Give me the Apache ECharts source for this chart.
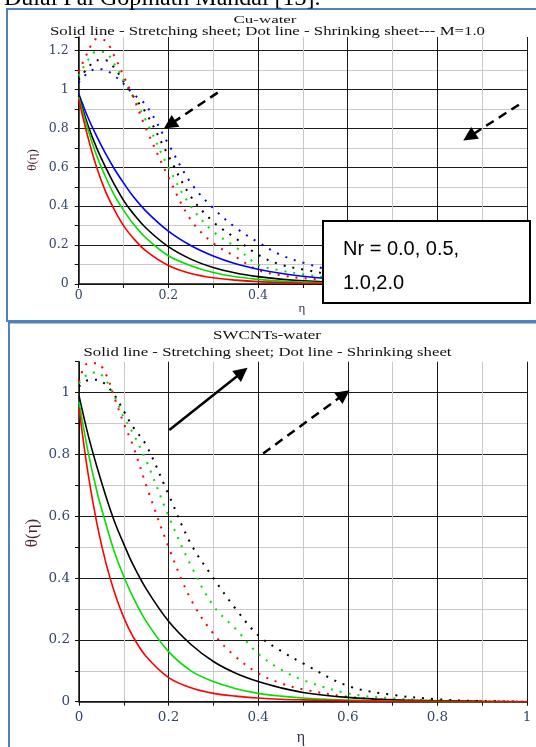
<!DOCTYPE html>
<html><head><meta charset="utf-8">
<script src="https://cdn.jsdelivr.net/npm/echarts@6/dist/echarts.min.js"></script>
<style>html,body{margin:0;padding:0;background:#fff}#c{width:536px;height:747px}</style>
</head><body><div id="c"></div>
<script>
// ---------- data ----------
const eta = [0, 0.02, 0.04, 0.06, 0.08, 0.1, 0.12, 0.15, 0.2, 0.25, 0.3, 0.35, 0.4, 0.45, 0.5, 0.6, 0.7, 0.8, 0.9, 1];
const xTicks = [0, 0.2, 0.4, 0.6, 0.8, 1];
const yTicksTop = [0, 0.2, 0.4, 0.6, 0.8, 1, 1.2];
const yTicksBottom = [0, 0.2, 0.4, 0.6, 0.8, 1];

// Cu-water (top panel), Nr = 0.0, 0.5, 1.0, 2.0  (red, green, black, blue)
const cuSolidRed   = [0.95, 0.76, 0.60, 0.475, 0.38, 0.30, 0.24, 0.17, 0.095, 0.054, 0.032, 0.02, 0.012, 0.008, 0.005, 0.002, 0.001, 0, 0, 0];
const cuSolidGreen = [0.96, 0.80, 0.66, 0.55, 0.455, 0.38, 0.315, 0.237, 0.145, 0.094, 0.059, 0.037, 0.024, 0.015, 0.01, 0.004, 0.002, 0.001, 0, 0];
const cuSolidBlack = [0.97, 0.82, 0.70, 0.60, 0.51, 0.43, 0.367, 0.288, 0.192, 0.128, 0.085, 0.057, 0.038, 0.025, 0.017, 0.008, 0.003, 0.0015, 0.001, 0];
const cuSolidBlue  = [0.98, 0.86, 0.76, 0.67, 0.59, 0.52, 0.455, 0.375, 0.272, 0.198, 0.144, 0.104, 0.076, 0.055, 0.04, 0.021, 0.011, 0.006, 0.003, 0];
const cuDotRed     = [1.09, 1.19, 1.26, 1.25, 1.17, 1.07, 0.97, 0.80, 0.55, 0.33, 0.21, 0.14, 0.072, 0.045, 0.03, 0.015, 0.007, 0.003, 0.001, 0];
const cuDotGreen   = [1.07, 1.15, 1.195, 1.19, 1.13, 1.05, 0.97, 0.84, 0.60, 0.40, 0.27, 0.19, 0.10, 0.07, 0.05, 0.022, 0.01, 0.004, 0.001, 0];
const cuDotBlack   = [1.05, 1.11, 1.15, 1.15, 1.11, 1.04, 0.97, 0.88, 0.66, 0.45, 0.32, 0.235, 0.15, 0.10, 0.075, 0.035, 0.016, 0.007, 0.003, 0];
const cuDotBlue    = [1.035, 1.085, 1.105, 1.10, 1.07, 1.03, 0.98, 0.92, 0.72, 0.52, 0.39, 0.29, 0.215, 0.15, 0.11, 0.05, 0.025, 0.012, 0.005, 0];

// SWCNTs-water (bottom panel)  (red, green, black)
const swSolidRed   = [0.95, 0.74, 0.576, 0.449, 0.35, 0.272, 0.212, 0.146, 0.078, 0.045, 0.027, 0.018, 0.012, 0.008, 0.006, 0.003, 0.001, 0, 0, 0];
const swSolidGreen = [0.97, 0.81, 0.68, 0.575, 0.48, 0.405, 0.34, 0.26, 0.162, 0.10, 0.065, 0.042, 0.027, 0.018, 0.012, 0.005, 0.002, 0.001, 0, 0];
const swSolidBlack = [0.99, 0.865, 0.76, 0.665, 0.58, 0.51, 0.445, 0.365, 0.26, 0.185, 0.13, 0.092, 0.065, 0.045, 0.03, 0.014, 0.006, 0.003, 0.001, 0];
const swDotRed     = [1.035, 1.095, 1.095, 1.06, 0.98, 0.90, 0.83, 0.70, 0.50, 0.33, 0.22, 0.145, 0.092, 0.06, 0.04, 0.016, 0.006, 0.002, 0.001, 0];
const swDotGreen   = [1.03, 1.06, 1.065, 1.04, 0.985, 0.92, 0.87, 0.78, 0.60, 0.44, 0.31, 0.235, 0.155, 0.105, 0.07, 0.027, 0.011, 0.004, 0.001, 0];
const swDotBlack   = [1.02, 1.04, 1.042, 1.025, 0.99, 0.94, 0.89, 0.83, 0.67, 0.51, 0.40, 0.30, 0.215, 0.165, 0.124, 0.051, 0.022, 0.008, 0.002, 0];

// annotation arrows (data coordinates): [from, to]
const arrowsTop = [[[0.31, 0.984], [0.203, 0.819]], [[0.982, 0.922], [0.871, 0.757]]];
const arrowBottomSolid = [[0.2016, 0.879], [0.364, 1.066]];
const arrowBottomDashed = [[0.411, 0.803], [0.5915, 0.9945]];

// ---------- styling ----------
const RED = '#ff0000', GREEN = '#00e000', BLACK = '#000000', BLUE = '#0000ff';
const LABEL = '#33476a';
const SERIF = 'Liberation Serif';
const TICKFONT = 'DejaVu Serif';

const chart = echarts.init(document.getElementById('c'));

const mctx = document.createElement('canvas').getContext('2d');
function stretched(text, cx, cy, size, targetW, color) {
  mctx.font = size + 'px "' + SERIF + '"';
  const w = mctx.measureText(text).width;
  return { type: 'text', x: cx, y: cy, scaleX: targetW / w, z: 50,
    style: { text, font: size + 'px "' + SERIF + '"', fill: color || '#111', align: 'center', verticalAlign: 'middle' } };
}

function fmt(v) { return String(Math.round(v * 10) / 10); }

function splitColors(n, lastHidden) {
  const arr = [];
  for (let i = 0; i < n; i++) arr.push(i % 2 === 0 ? '#1a1a1a' : '#c9c9c9');
  if (lastHidden) arr[n - 1] = 'rgba(0,0,0,0)';
  return arr;
}

function xAxisCfg(gi, fontSize, margin) {
  return { type: 'value', gridIndex: gi, min: 0, max: 1, interval: 0.1,
    axisLine: { show: true, onZero: false, lineStyle: { color: '#111', width: 1.5 } },
    axisTick: { show: true, length: 4, lineStyle: { color: '#111', width: 1 } },
    axisLabel: { margin, fontFamily: TICKFONT, fontSize, color: LABEL,
      formatter: v => xTicks.some(t => Math.abs(t - v) < 1e-6) ? fmt(v) : '' },
    splitLine: { show: true, lineStyle: { color: splitColors(11, false), width: 1 } } };
}
function yAxisCfg(gi, max, nTicks, ticks, fontSize, margin) {
  return { type: 'value', gridIndex: gi, min: 0, max, interval: 0.1,
    axisLine: { show: true, onZero: false, lineStyle: { color: '#111', width: 1.5 } },
    axisTick: { show: true, length: 4, lineStyle: { color: '#111', width: 1 } },
    axisLabel: { margin, fontFamily: TICKFONT, fontSize, color: LABEL,
      formatter: v => ticks.some(t => Math.abs(t - v) < 1e-6) ? fmt(v) : '' },
    splitLine: { show: true, lineStyle: { color: splitColors(nTicks, true), width: 1 } } };
}

function curve(gi, arr, color, dotted) {
  return { type: 'line', xAxisIndex: gi, yAxisIndex: gi, data: eta.map((x, i) => [x, arr[i]]),
    showSymbol: false, smooth: 0.35, silent: true, animation: false,
    lineStyle: dotted ? { color, width: 2, type: [2, 7], cap: 'butt' } : { color, width: 1.6 } };
}

function arrowHost(gi, pairs, type) {
  return { type: 'line', xAxisIndex: gi, yAxisIndex: gi, data: [[0, 0]], showSymbol: false, clip: false,
    lineStyle: { opacity: 0 }, silent: true, animation: false,
    markLine: { silent: true, animation: false, symbol: ['none', 'triangle'], symbolSize: 14,
      label: { show: false },
      lineStyle: { color: '#000', width: 2.5, type: type, opacity: 1 },
      emphasis: { disabled: true },
      data: pairs.map(p => [{ coord: p[0] }, { coord: p[1] }]) } };
}

const option = {
  animation: false,
  grid: [
    { left: 78.7, right: 9, top: 37, bottom: 463 },
    { left: 79, right: 9, top: 361.7, bottom: 45.3 }
  ],
  xAxis: [xAxisCfg(0, 12.5, 5), xAxisCfg(1, 13.5, 9)],
  yAxis: [yAxisCfg(0, 1.27, 14, yTicksTop, 12.5, 10), yAxisCfg(1, 1.1, 12, yTicksBottom, 13.5, 9)],
  series: [
    curve(0, cuDotBlue, BLUE, true), curve(0, cuDotBlack, BLACK, true), curve(0, cuDotGreen, GREEN, true), curve(0, cuDotRed, RED, true),
    curve(0, cuSolidBlue, BLUE, false), curve(0, cuSolidBlack, BLACK, false), curve(0, cuSolidGreen, GREEN, false), curve(0, cuSolidRed, RED, false),
    curve(1, swDotBlack, BLACK, true), curve(1, swDotGreen, GREEN, true), curve(1, swDotRed, RED, true),
    curve(1, swSolidBlack, BLACK, false), curve(1, swSolidGreen, GREEN, false), curve(1, swSolidRed, RED, false),
    arrowHost(0, arrowsTop, [9, 6]),
    arrowHost(1, [arrowBottomSolid], 'solid'),
    arrowHost(1, [arrowBottomDashed], [9, 6])
  ],
  graphic: [
    { type: 'text', x: 4, y: -1.5, z: 50, style: { text: 'Dulal Pal Gopinath Mandal [13].', font: '24px "Liberation Serif"', fill: '#000', verticalAlign: 'middle' } },
    { type: 'rect', z: 40, shape: { x: 7, y: 9, width: 540, height: 312 }, style: { fill: 'none', stroke: '#4f81bd', lineWidth: 2 } },
    { type: 'rect', z: 40, shape: { x: 9, y: 322.5, width: 540, height: 440 }, style: { fill: 'none', stroke: '#4f81bd', lineWidth: 2 } },
    stretched('Cu-water', 265, 20, 11, 63, '#111'),
    stretched('Solid line - Stretching sheet; Dot line - Shrinking sheet--- M=1.0', 267.5, 32, 12, 435, '#111'),
    stretched('SWCNTs-water', 267, 336, 13, 108, '#111'),
    stretched('Solid line - Stretching sheet; Dot line - Shrinking sheet', 267.5, 353, 13, 368, '#111'),
    { type: 'text', x: 33, y: 160, rotation: Math.PI / 2, z: 50, style: { text: 'θ(η)', font: '13px "Liberation Serif"', fill: '#4a2530', align: 'center', verticalAlign: 'middle' } },
    { type: 'text', x: 33, y: 533, rotation: Math.PI / 2, z: 50, style: { text: 'θ(η)', font: '17px "Liberation Serif"', fill: '#4a2530', align: 'center', verticalAlign: 'middle' } },
    { type: 'text', x: 302, y: 309, z: 50, style: { text: 'η', font: '13px "Liberation Serif"', fill: '#3a3050', align: 'center', verticalAlign: 'middle' } },
    { type: 'text', x: 301, y: 738, z: 50, style: { text: 'η', font: '16px "Liberation Serif"', fill: '#3a3050', align: 'center', verticalAlign: 'middle' } },
    { type: 'rect', z: 100, shape: { x: 323, y: 221, width: 207, height: 82 }, style: { fill: '#fff', stroke: '#000', lineWidth: 2 } },
    { type: 'text', x: 343, y: 249, z: 101, style: { text: 'Nr = 0.0, 0.5,', font: '20px "Liberation Sans"', fill: '#000', verticalAlign: 'middle' } },
    { type: 'text', x: 343, y: 283, z: 101, style: { text: '1.0,2.0', font: '20px "Liberation Sans"', fill: '#000', verticalAlign: 'middle' } }
  ]
};
chart.setOption(option);
</script>
</body></html>
